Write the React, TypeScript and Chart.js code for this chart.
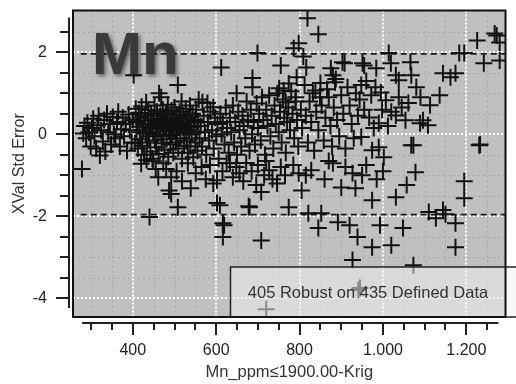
import { useEffect, useRef } from "react";
import { Chart, registerables } from "chart.js";

Chart.register(...registerables);

// ---- data: [Mn_ppm, XVal Std Error] ----
const westCluster: [number, number][] = [
  [278, -0.85], [281, 0.02], [284, 0.2], [288, -0.1], [291, 0.28], [295, 0.05], [299, -0.3], [302, 0.15],
  [305, 0.38], [308, -0.05], [312, -0.35], [315, 0.22], [318, 0.45], [321, -0.52], [324, 0.1], [328, -0.18],
  [331, 0.35], [334, -0.42], [338, 0.5], [341, 0.05], [345, 0.25], [348, -0.25], [352, 0.42], [355, 0.0],
  [358, -0.1], [362, 0.3], [365, 0.55], [369, -0.3], [372, 0.12], [376, 0.4], [379, -0.05], [383, 0.25],
  [386, -0.4], [390, 0.48], [393, 0.1], [397, -0.2], [400, 0.35], [402, 1.44], [405, -0.22], [407, 0.62],
];

const coreCluster: [number, number][] = [
  [409, 0.05], [411, 0.3], [412, -0.35], [414, 0.52], [416, 0.18], [417, -0.12], [419, 0.4], [421, 0.68],
  [422, -0.28], [424, 0.1], [426, 0.25], [427, -0.5], [429, 0.45], [431, 0.02], [432, 0.78], [434, -0.2],
  [436, 0.33], [437, 0.59], [439, -0.05], [440, 0.15], [442, -0.42], [444, 0.5], [445, 0.25], [447, -0.6],
  [448, 0.05], [450, 0.38], [452, 0.7], [453, -0.15], [455, 0.2], [456, -0.32], [458, 0.55], [459, 0.0],
  [461, 0.3], [462, -0.48], [463, 1.0], [465, 0.12], [466, 0.45], [468, 0.9], [469, -0.22], [470, 0.25],
  [472, 0.6], [473, -0.05], [475, 0.35], [476, -0.38], [478, 0.15], [479, 0.5], [481, -0.12], [482, 0.28],
  [484, 0.72], [485, -0.55], [487, 0.08], [488, 0.4], [490, -0.25], [491, 0.22], [493, 0.58], [494, -0.02],
  [496, 0.35], [497, -0.45], [499, 0.12], [500, 0.65], [502, 0.3], [503, -0.2], [505, 0.48], [506, 0.02],
  [508, 1.2], [509, -0.35], [511, 0.25], [512, 0.55], [514, -0.1], [515, 0.38], [517, 0.8], [518, -0.6],
  [520, 0.15], [521, 0.45], [523, -0.28], [524, 0.05], [526, 0.3], [527, 0.62], [529, -0.15], [530, 0.2],
  [532, -0.45], [533, 0.4], [535, 0.1], [537, 0.7], [538, -0.3], [540, 0.28], [541, 0.0], [543, 0.5],
  [545, -0.56], [546, 0.18], [548, 0.35], [550, -0.2], [552, 0.6], [553, 0.05], [555, -0.4], [557, 0.3],
  [558, 0.85], [560, -0.1],
  [433, -0.63], [449, -0.66], [461, -1.05], [473, -0.71], [480, -0.85], [487, -1.37], [492, -1.05],
  [492, -1.46], [508, -1.78], [532, -0.71], [539, -1.32], [551, -0.95], [440, -2.02], [420, -0.72],
  [505, -0.9], [518, -1.15], [455, -0.85],
];

const centralSpread: [number, number][] = [
  [567, 0.78], [579, 0.76], [593, 0.66], [612, 1.63], [649, 1.0], [687, 1.37], [687, 1.15], [699, 1.98],
  [751, 1.12], [755, 1.68], [762, 1.07], [767, 0.78], [774, 1.24], [786, 2.1], [791, 0.9], [793, 1.39], [798, 2.22],
  [563, 0.2], [566, -0.3], [570, 0.45], [573, 0.05], [576, -0.5], [580, 0.3], [583, -0.15], [586, 0.55],
  [590, 0.1], [594, -0.35], [597, 0.4], [600, -0.05], [603, 0.25], [606, -0.6], [610, 0.5], [613, 0.0],
  [616, 0.3], [620, -0.25], [623, 0.65], [626, 0.15], [630, -0.45], [633, 0.4], [636, 0.05], [640, 0.7],
  [643, -0.2], [646, 0.3], [650, -0.5], [653, 0.55], [656, 0.1], [660, -0.3], [663, 0.45], [666, 0.2],
  [670, -0.1], [673, 0.8], [676, 0.35], [680, -0.4], [683, 0.6], [686, 0.0], [690, 0.3], [693, -0.25],
  [697, 0.75], [700, 0.15], [703, 0.5], [707, -0.15], [710, 0.9], [713, 0.35], [717, -0.5], [720, 0.6],
  [723, 0.2], [727, 0.95], [730, -0.05], [733, 0.45], [737, -0.35], [740, 0.7], [743, 0.25], [747, 1.0],
  [750, 0.05], [753, 0.55], [757, -0.2], [760, 0.85], [763, 0.4], [767, -0.45], [770, 0.3], [773, 0.65],
  [777, 0.1], [780, 1.05], [783, 0.5], [787, -0.1], [790, 0.8], [794, 0.35], [797, -0.3],
  [565, -0.8], [575, -1.1], [585, -0.75], [593, -1.2], [602, -1.12], [602, -1.68], [609, -1.73], [615, -0.9],
  [625, -0.7], [633, -0.71], [640, -1.05], [648, -0.8], [656, -0.95], [665, -1.15], [672, -0.7], [678, -1.76],
  [680, -1.78], [685, -0.9], [696, -1.24], [700, -0.75], [708, -1.41], [715, -1.0], [720, -0.65], [727, -0.88],
  [735, -1.1], [746, -1.2], [755, -0.8], [765, -1.0], [774, -1.78], [785, -0.75], [798, -0.95],
  [616, -2.17], [616, -2.51], [619, -2.22], [708, -2.59],
];

const eastBand: [number, number][] = [
  [809, 1.9], [816, 1.63], [819, 2.83], [838, 1.07], [845, 2.44], [849, 0.9], [875, 1.61], [880, 1.44],
  [885, 1.27], [903, 1.76], [908, 1.73], [948, 1.2], [951, 1.73], [955, 1.68], [984, 1.61], [995, 1.02],
  [1007, 0.83], [1014, 1.98], [1019, 1.73], [1031, 1.44], [1038, 1.32], [1038, 0.9], [1061, 0.76], [1066, 1.76],
  [1068, 1.44], [1080, 1.15], [1113, 0.71], [1136, 0.95], [1089, 0.27], [1108, 0.22],
  [803, 0.6], [806, 0.15], [812, 1.2], [815, 0.45], [820, -0.2], [824, 0.8], [828, 0.3], [832, 1.0],
  [835, -0.4], [840, 0.55], [845, 0.1], [850, 1.25], [853, 0.7], [858, -0.15], [862, 0.4], [866, 1.1],
  [870, 0.9], [874, 0.2], [878, -0.3], [882, 0.65], [887, 1.35], [890, 0.35], [895, -0.05], [900, 0.95],
  [905, 0.5], [910, -0.35], [915, 1.15], [920, 0.7], [925, 0.25], [930, -0.1], [935, 1.0], [940, 0.45],
  [944, 0.85], [948, -0.07], [955, 0.6], [960, 1.3], [967, 0.41], [972, 0.95], [978, 0.15], [982, 1.15],
  [990, 0.27], [990, -0.32], [998, 0.6], [1002, -0.56], [1012, 0.2], [1020, 0.55], [1031, 0.46], [1045, 0.65],
  [1054, 0.34], [1068, -0.27], [974, -0.39], [1073, -0.27],
  [805, -1.37], [815, -1.0], [821, -1.93], [828, -0.88], [845, -2.29], [852, -1.93], [860, -1.1], [870, -0.65],
  [880, -0.71], [892, -2.15], [900, -1.3], [910, -0.8], [920, -2.22], [927, -0.95], [927, -3.07], [934, -1.32],
  [939, -2.51], [950, -1.0], [960, -0.75], [974, -1.61], [974, -2.76], [985, -1.1], [993, -2.22], [1000, -0.9],
  [1020, -2.71], [1031, -1.54], [1048, -2.29], [1057, -1.24], [1078, -0.93], [1073, -3.2],
];

const eastEdge: [number, number][] = [
  [1096, 0.34], [1144, 1.49], [1162, 1.39], [1174, 1.49], [1183, 1.98], [1195, 1.98], [1226, 2.29], [1242, 1.73],
  [1268, 2.46], [1273, 2.41], [1280, 1.8], [1280, 2.24], [1231, -0.27], [1233, -0.25], [1127, -2.05],
  [1144, -1.85], [1150, -1.95], [1174, -2.17], [1174, -2.76], [1195, -1.15], [1195, -1.56], [1110, -1.9], [1090, 0.9],
];

const lowOutliers: [number, number][] = [
  [720, -4.27], [941, -3.8], [945, -3.75],
];

const limitLevels = [1.96, -1.96];
const limitSpan = [275, 1294];

const xTickValues = [400, 600, 800, 1000, 1200];
const xTickLabels = ["400", "600", "800", "1.000", "1.200"];
const yTickValues = [2, 0, -2, -4];
const yTickLabels = ["2", "0", "-2", "-4"];
const xTickMarks = [300, 350, 400, 450, 500, 550, 600, 650, 700, 750, 800, 850, 900, 950, 1000, 1050, 1100, 1150, 1200, 1250];
const yTickMarks = [-4, -3.5, -3, -2.5, -2, -1.5, -1, -0.5, 0, 0.5, 1, 1.5, 2, 2.5];
const yGridMarks = [-4, -3.5, -3, -2.5, -2, -1.5, -1, -0.5, 0, 0.5, 1, 1.5, 2, 2.5];

const chartTitle = "Mn";
const xAxisTitle = "Mn_ppm≤1900.00-Krig";
const yAxisTitle = "XVal Std Error";
const legendText = "405 Robust on 435 Defined Data";

const X_MIN = 256.5;
const X_MAX = 1294;
const Y_MIN = -4.46;
const Y_MAX = 3.02;

const FONT = "'Liberation Sans', Arial, sans-serif";

const decorPlugin = {
  id: "decor",
  beforeDatasetsDraw(chart: any) {
    const { ctx, chartArea: a, scales } = chart;
    const xs = scales.x;
    const ys = scales.y;
    ctx.save();
    ctx.fillStyle = "#c0c0c0";
    ctx.fillRect(a.left, a.top, a.right - a.left, a.bottom - a.top);

    const line = (x1: number, y1: number, x2: number, y2: number) => {
      ctx.beginPath();
      ctx.moveTo(x1, y1);
      ctx.lineTo(x2, y2);
      ctx.stroke();
    };
    ctx.strokeStyle = "#a6a6a6";
    ctx.lineWidth = 1;
    ctx.setLineDash([2, 3]);
    for (const v of xTickMarks) {
      if (xTickValues.includes(v)) continue;
      const px = Math.round(xs.getPixelForValue(v)) + 0.5;
      line(px, a.top, px, a.bottom);
    }
    for (const v of yGridMarks) {
      if (yTickValues.includes(v)) continue;
      const py = Math.round(ys.getPixelForValue(v)) + 0.5;
      line(a.left, py, a.right, py);
    }
    ctx.strokeStyle = "#ffffff";
    ctx.lineWidth = 2;
    ctx.setLineDash([2, 2]);
    for (const v of xTickValues) {
      const px = Math.round(xs.getPixelForValue(v));
      line(px, a.top, px, a.bottom);
    }
    for (const v of yTickValues) {
      const py = Math.round(ys.getPixelForValue(v));
      line(a.left, py, a.right, py);
    }
    ctx.restore();
  },
  afterDatasetsDraw(chart: any) {
    const { ctx, chartArea: a, scales } = chart;
    const xs = scales.x;
    const ys = scales.y;
    ctx.save();

    ctx.save();
    ctx.font = `bold 60px ${FONT}`;
    ctx.fillStyle = "#3a3a3a";
    ctx.shadowColor = "rgba(0,0,0,0.55)";
    ctx.shadowBlur = 4;
    ctx.shadowOffsetX = 2;
    ctx.shadowOffsetY = 2;
    ctx.textAlign = "left";
    ctx.textBaseline = "alphabetic";
    ctx.fillText(chartTitle, a.left + 19, a.top + 63);
    ctx.restore();

    const bx = a.right - 275;
    const by = a.bottom - 50;
    ctx.fillStyle = "rgba(238,238,238,0.55)";
    ctx.fillRect(bx, by, 300, 50);
    ctx.strokeStyle = "#222";
    ctx.lineWidth = 1.5;
    ctx.strokeRect(bx, by, 300, 50);
    ctx.fillStyle = "#333";
    ctx.font = `16.5px ${FONT}`;
    ctx.textAlign = "center";
    ctx.textBaseline = "middle";
    ctx.fillText(legendText, bx + 137.5, by + 26);

    ctx.strokeStyle = "#111";
    ctx.lineWidth = 2;
    ctx.strokeRect(a.left, a.top, a.right - a.left, a.bottom - a.top);

    ctx.strokeStyle = "#222";
    ctx.lineWidth = 2;
    const yAxisX = a.left - 4;
    ctx.beginPath();
    ctx.moveTo(yAxisX, a.top + 7);
    ctx.lineTo(yAxisX, a.bottom - 9);
    ctx.stroke();
    for (const v of yTickMarks) {
      const py = Math.round(ys.getPixelForValue(v));
      const len = yTickValues.includes(v) ? 13 : 9;
      ctx.beginPath();
      ctx.moveTo(yAxisX, py);
      ctx.lineTo(yAxisX - len, py);
      ctx.stroke();
    }
    const xAxisY = a.bottom + 6;
    ctx.beginPath();
    ctx.moveTo(a.left + 9, xAxisY);
    ctx.lineTo(a.right - 7, xAxisY);
    ctx.stroke();
    for (const v of xTickMarks) {
      const px = Math.round(xs.getPixelForValue(v));
      const len = xTickValues.includes(v) ? 12 : 7;
      ctx.beginPath();
      ctx.moveTo(px, xAxisY);
      ctx.lineTo(px, xAxisY + len);
      ctx.stroke();
    }
    ctx.restore();
  },
};

export default function App() {
  const canvasRef = useRef<HTMLCanvasElement | null>(null);

  useEffect(() => {
    const canvas = canvasRef.current;
    if (!canvas) return;
    const allPoints = [...westCluster, ...coreCluster, ...centralSpread, ...eastBand, ...eastEdge, ...lowOutliers];
    const limitDatasets = limitLevels.map((lv) => ({
      type: "line" as const,
      data: limitSpan.map((x) => ({ x, y: lv })),
      borderColor: "#1a1a1a",
      borderWidth: 1.8,
      borderDash: [6, 4],
      pointRadius: 0,
      showLine: true,
      fill: false,
      order: 2,
    }));
    const chart = new Chart(canvas, {
      type: "scatter",
      data: {
        datasets: [
          {
            data: allPoints.map(([x, y]) => ({ x, y })),
            pointStyle: "cross",
            pointRadius: 8.5,
            borderColor: "#111",
            backgroundColor: "#111",
            borderWidth: 2,
            order: 1,
          },
          ...limitDatasets,
        ] as any,
      },
      options: {
        animation: false,
        responsive: true,
        maintainAspectRatio: false,
        layout: { padding: { top: 10, right: 1, left: 0, bottom: 0 } },
        plugins: { legend: { display: false }, tooltip: { enabled: false } },
        scales: {
          x: {
            type: "linear",
            position: "bottom",
            min: X_MIN,
            max: X_MAX,
            bounds: "data",
            afterFit: (s: any) => {
              s.height = 67;
              s.paddingLeft = 0;
              s.paddingRight = 0;
            },
            afterBuildTicks: (s: any) => { s.ticks = xTickValues.map((v) => ({ value: v })); },
            grid: { display: false, drawTicks: false },
            border: { display: false },
            ticks: {
              autoSkip: false,
              maxRotation: 0,
              padding: 24,
              color: "#222",
              font: { family: FONT, size: 16 },
              callback: (v: any) => {
                const i = xTickValues.indexOf(Number(v));
                return i >= 0 ? xTickLabels[i] : "";
              },
            },
            title: {
              display: true,
              text: xAxisTitle,
              color: "#333",
              font: { family: FONT, size: 16.5 },
              padding: { top: 2, bottom: 2 },
            },
          },
          y: {
            type: "linear",
            min: Y_MIN,
            max: Y_MAX,
            bounds: "data",
            afterFit: (s: any) => {
              s.width = 73;
              s.paddingTop = 0;
              s.paddingBottom = 0;
            },
            afterBuildTicks: (s: any) => { s.ticks = yTickValues.map((v) => ({ value: v })); },
            grid: { display: false, drawTicks: false },
            border: { display: false },
            ticks: {
              autoSkip: false,
              padding: 26,
              color: "#222",
              font: { family: FONT, size: 16 },
              callback: (v: any) => {
                const i = yTickValues.indexOf(Number(v));
                return i >= 0 ? yTickLabels[i] : "";
              },
            },
            title: {
              display: true,
              text: yAxisTitle,
              color: "#333",
              font: { family: FONT, size: 16 },
              padding: { top: 10, bottom: 10 },
            },
          },
        },
      },
      plugins: [decorPlugin],
    });
    return () => chart.destroy();
  }, []);

  return (
    <div style={{ position: "absolute", left: 0, top: 0, width: 516, height: 384, background: "#fff" }}>
      <canvas ref={canvasRef} />
    </div>
  );
}
